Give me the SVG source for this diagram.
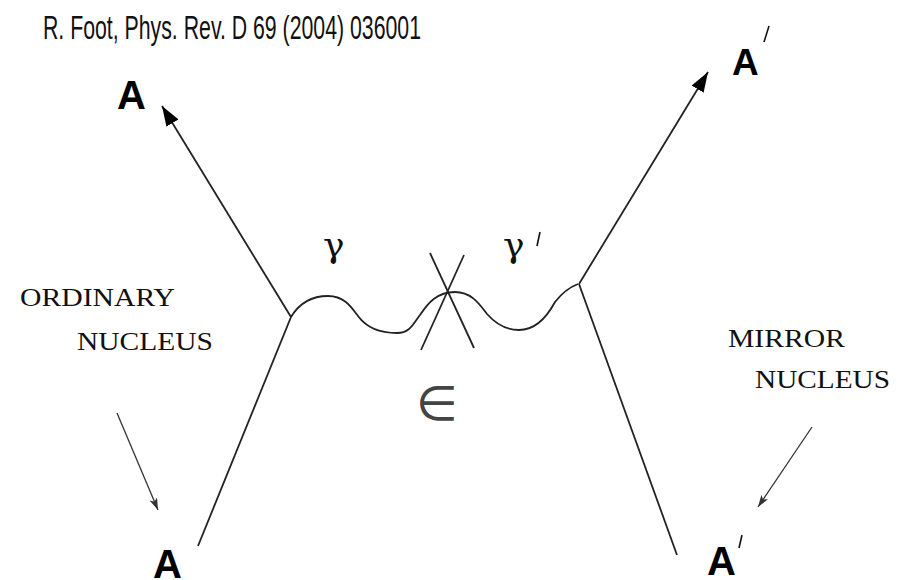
<svg xmlns="http://www.w3.org/2000/svg" width="906" height="580" viewBox="0 0 906 580">
<style>
.ln{stroke:#222;stroke-width:1.8;fill:none}
.thin{stroke:#333;stroke-width:1.3;fill:none}
.big{font-family:"Liberation Sans",Arial,sans-serif;font-weight:bold;fill:#000}
.tm{font-family:"Liberation Serif","Times New Roman",serif;fill:#111}
.gm{font-family:"DejaVu Serif","Liberation Serif",serif;fill:#111}
.pr{stroke:#111;stroke-width:1.6}
</style>
<defs>
<marker id="ah" viewBox="0 0 20 14" refX="20" refY="7" markerWidth="20" markerHeight="14" markerUnits="userSpaceOnUse" orient="auto">
<path d="M0,0 L20,7 L0,14 Z" fill="#000"/>
</marker>
<marker id="sh" viewBox="0 0 12 8" refX="12" refY="4" markerWidth="12" markerHeight="8" markerUnits="userSpaceOnUse" orient="auto">
<path d="M0,0 L12,4 L0,8 L3,4 Z" fill="#333"/>
</marker>
</defs>
<rect width="906" height="580" fill="#fff"/>
<text x="43" y="39" font-family="'Liberation Sans',Arial,sans-serif" font-size="34" fill="#111" textLength="378" lengthAdjust="spacingAndGlyphs">R. Foot, Phys. Rev. D 69 (2004) 036001</text>
<g id="connectors">
<line class="ln" x1="291" y1="317" x2="162" y2="106" marker-end="url(#ah)"/>
<line class="ln" x1="579" y1="284" x2="708" y2="72" marker-end="url(#ah)"/>
<line class="ln" x1="291" y1="317" x2="198" y2="546"/>
<line class="ln" x1="579" y1="284" x2="677" y2="555"/>
<path class="ln" d="M291,317 C300,302 312,296 328,296 C345,296 352,308 358,316 C366,327 380,333 397,333 C410,333 413,324 420,315 C428,303 437,292 455,292 C472,292 480,305 487,314 C495,323 505,330 519,330 C537,330 548,315 555,302 C562,293 570,287 578,284"/>
<line class="ln" x1="430" y1="253" x2="474" y2="348"/>
<line class="ln" x1="464" y1="255" x2="421" y2="350"/>
<line class="thin" x1="117" y1="413" x2="158" y2="510" marker-end="url(#sh)"/>
<line class="thin" x1="812" y1="427" x2="758" y2="507" marker-end="url(#sh)"/>
</g>
<g id="node-A-out">
<text class="big" x="117" y="109" font-size="40">A</text>
</g>
<g id="node-Aprime-out">
<text class="big" x="732" y="75" font-size="37">A</text>
<line class="pr" x1="769" y1="26" x2="764" y2="42"/>
</g>
<g id="node-A-in">
<text class="big" x="153" y="578" font-size="40">A</text>
</g>
<g id="node-Aprime-in">
<text class="big" x="707" y="575" font-size="40">A</text>
<line class="pr" x1="742" y1="535" x2="739" y2="548"/>
</g>
<g id="labels">
<text class="tm" x="20" y="306" font-size="26" textLength="155" lengthAdjust="spacingAndGlyphs">ORDINARY</text>
<text class="tm" x="77" y="350" font-size="26" textLength="136" lengthAdjust="spacingAndGlyphs">NUCLEUS</text>
<text class="tm" x="728" y="347" font-size="26" textLength="117" lengthAdjust="spacingAndGlyphs">MIRROR</text>
<text class="tm" x="755" y="388" font-size="26" textLength="135" lengthAdjust="spacingAndGlyphs">NUCLEUS</text>
<text class="gm" x="323" y="257" font-size="36">γ</text>
<text class="gm" x="503" y="257" font-size="36">γ</text>
<line class="pr" x1="540" y1="232" x2="537" y2="246"/>
<text x="416" y="420" font-family="'DejaVu Sans',sans-serif" font-size="48" fill="#444">∈</text>
</g>
</svg>
